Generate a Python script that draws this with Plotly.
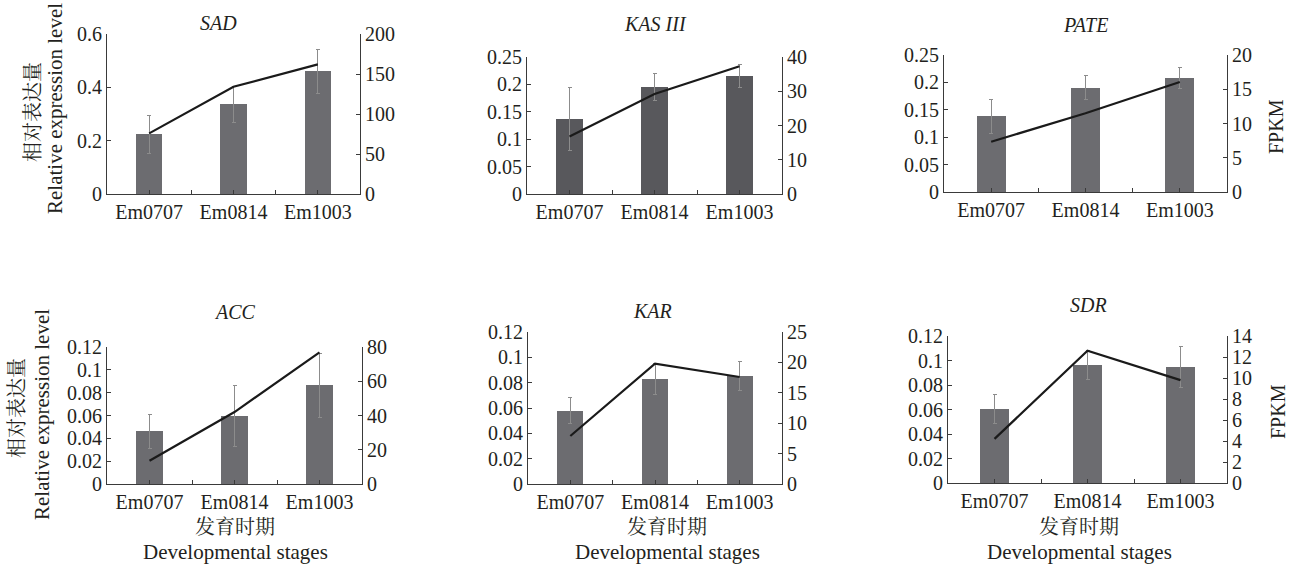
import plotly.graph_objects as go

# Developmental stages (x categories)
stages = ["Em0707", "Em0814", "Em1003"]

# Gene names (panel titles)
genes = ["SAD", "KAS III", "PATE", "ACC", "KAR", "SDR"]

# Relative expression level (qRT-PCR, bars) and standard errors
rel_sad = [0.224, 0.336, 0.460]
err_sad = [0.072, 0.068, 0.083]
rel_kas = [0.137, 0.195, 0.216]
err_kas = [0.058, 0.024, 0.021]
rel_pate = [0.138, 0.190, 0.208]
err_pate = [0.031, 0.022, 0.019]
rel_acc = [0.046, 0.0596, 0.0864]
err_acc = [0.0153, 0.027, 0.028]
rel_kar = [0.058, 0.0828, 0.0854]
err_kar = [0.010, 0.012, 0.0117]
rel_sdr = [0.0604, 0.0961, 0.0948]
err_sdr = [0.012, 0.012, 0.017]

# FPKM values from RNA-seq (line)
fpkm_sad = [75.8, 134.0, 162.0]
fpkm_kas = [16.8, 29.2, 37.3]
fpkm_pate = [7.33, 11.5, 16.07]
fpkm_acc = [13.6, 42.0, 76.9]
fpkm_kar = [7.9, 19.8, 17.6]
fpkm_sdr = [4.2, 12.6, 9.8]

# Axis ranges and tick steps
left_max = [0.6, 0.25, 0.25, 0.12, 0.12, 0.12]
left_step = [0.2, 0.05, 0.05, 0.02, 0.02, 0.02]
right_max = [200, 40, 20, 80, 25, 14]
right_step = [50, 10, 5, 20, 5, 2]

rel_all = [rel_sad, rel_kas, rel_pate, rel_acc, rel_kar, rel_sdr]
err_all = [err_sad, err_kas, err_pate, err_acc, err_kar, err_sdr]
fpkm_all = [fpkm_sad, fpkm_kas, fpkm_pate, fpkm_acc, fpkm_kar, fpkm_sdr]

W, H = 1292, 566

# Plot-area boxes in pixels: (left, right, top, bottom)
boxes = [
    (107, 360, 34, 194),
    (527, 782, 57, 194),
    (944, 1227, 55, 192),
    (107, 362, 347, 484),
    (528, 782, 332, 484),
    (948, 1227, 336, 483),
]
bar_colors = ["#6c6c70", "#58585c", "#6c6c70", "#6c6c70", "#6c6c70", "#6c6c70"]
# Title positions (px)
title_pos = [(219, 23), (655, 24), (1085, 25), (235, 312), (653, 311), (1088, 305)]

FONT = "Liberation Serif, 'Times New Roman', serif"
CJK = "Liberation Serif, 'Noto Serif CJK SC', 'Noto Sans CJK SC', serif"
TXT = "#231f20"
AX = "#3a3a3a"

fig = go.Figure()
layout = dict(
    template="none",
    width=W, height=H, autosize=False,
    margin=dict(l=0, r=0, t=0, b=0, pad=0, autoexpand=False),
    paper_bgcolor="white", plot_bgcolor="white",
    showlegend=False,
    font=dict(family=FONT, size=20, color=TXT),
    bargap=0,
)

xpos = list(range(len(stages)))
tickvals = [0, 0.5, 1, 1.5, 2]
ticktext = [stages[0], "", stages[1], "", stages[2]]

common_axis = dict(
    ticks="inside", ticklen=4, tickcolor=AX, tickwidth=1,
    showline=True, linecolor=AX, linewidth=1,
    showgrid=False, zeroline=False, automargin=False,
    tickfont=dict(family=FONT, size=20, color=TXT),
)

annotations = []
for i in range(6):
    n = i + 1
    xa = f"x{n}"
    ya1 = f"y{2 * n - 1}"
    ya2 = f"y{2 * n}"
    l, r, t, b = boxes[i]
    xd = [l / W, r / W]
    yd = [1 - b / H, 1 - t / H]

    fig.add_trace(go.Bar(
        x=xpos, y=rel_all[i], width=0.31,
        marker=dict(color=bar_colors[i], line=dict(width=0)),
        error_y=dict(type="data", array=err_all[i], color="#8c8c8c",
                     thickness=1, width=2),
        xaxis=xa, yaxis=ya1,
    ))
    fig.add_trace(go.Scatter(
        x=xpos, y=fpkm_all[i], mode="lines",
        line=dict(color="#1a1a1a", width=2.2),
        xaxis=xa, yaxis=ya2,
    ))

    layout[f"xaxis{n}"] = dict(
        domain=xd, anchor=ya1, range=[-0.5, 2.5],
        tickmode="array", tickvals=tickvals, ticktext=ticktext,
        **common_axis,
    )
    layout[f"yaxis{2 * n - 1}"] = dict(
        domain=yd, anchor=xa, range=[0, left_max[i]], dtick=left_step[i],
        tick0=0, side="left", **common_axis,
    )
    layout[f"yaxis{2 * n}"] = dict(
        domain=yd, anchor=xa, overlaying=ya1, side="right",
        range=[0, right_max[i]], dtick=right_step[i], tick0=0,
        **common_axis,
    )

    tx, ty = title_pos[i]
    annotations.append(dict(
        text=f"<i>{genes[i]}</i>", x=tx / W, y=1 - ty / H,
        xref="paper", yref="paper", showarrow=False,
        xanchor="center", yanchor="middle",
        font=dict(family=FONT, size=20, color=TXT),
    ))

# Left axis titles (rotated, two lines)
for (xc, yc_cn, yc_en, x_en) in [(33, 112, 109, 55), (17, 408, 415, 42)]:
    annotations.append(dict(
        text="相对表达量", x=xc / W, y=1 - yc_cn / H, xref="paper", yref="paper",
        showarrow=False, textangle=-90, xanchor="center", yanchor="middle",
        font=dict(family=CJK, size=20, color=TXT),
    ))
    annotations.append(dict(
        text="Relative expression level", x=x_en / W, y=1 - yc_en / H,
        xref="paper", yref="paper", showarrow=False, textangle=-90,
        xanchor="center", yanchor="middle",
        font=dict(family=FONT, size=21, color=TXT),
    ))

# Right axis titles
for (xc, yc) in [(1276, 127), (1278, 412)]:
    annotations.append(dict(
        text="FPKM", x=xc / W, y=1 - yc / H, xref="paper", yref="paper",
        showarrow=False, textangle=-90, xanchor="center", yanchor="middle",
        font=dict(family=FONT, size=20, color=TXT),
    ))

# Bottom x titles
for xc in [235, 667, 1079]:
    annotations.append(dict(
        text="发育时期", x=xc / W, y=1 - 527 / H, xref="paper", yref="paper",
        showarrow=False, xanchor="center", yanchor="middle",
        font=dict(family=CJK, size=20, color=TXT),
    ))
    annotations.append(dict(
        text="Developmental stages", x=xc / W, y=1 - 552 / H,
        xref="paper", yref="paper", showarrow=False,
        xanchor="center", yanchor="middle",
        font=dict(family=FONT, size=21, color=TXT),
    ))

layout["annotations"] = annotations
fig.update_layout(**layout)
fig.write_html("out.html")
